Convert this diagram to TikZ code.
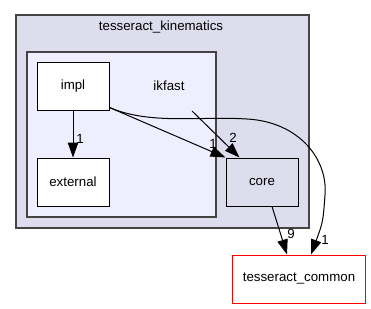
\documentclass[tikz,border=0pt]{standalone}
\usepackage{fontspec}
\setmainfont{Liberation Sans}
\usepackage{tikz}
\usetikzlibrary{arrows.meta}

\definecolor{clusterfill}{HTML}{DDDDEE}
\definecolor{subfill}{HTML}{EEEEFF}
\definecolor{clusterline}{HTML}{444444}

\tikzset{
	dot/.style={font=\fontsize{13.3}{15}\selectfont},
	dirbox/.style={dot, draw=black, line width=1pt, fill=white, minimum width=72pt,
		minimum height=48pt, inner sep=0pt},
	dep/.style={line width=1pt, -{Triangle[length=15pt,width=10.5pt]}},
	cnt/.style={dot, inner sep=1pt}
}

\begin{document}
\begin{tikzpicture}[x=1pt, y=-1pt]
			\useasboundingbox (0, 0) rectangle (371, 308);

			\draw [line width=1.5pt, clusterline, fill=clusterfill] (16, 15) rectangle (309, 228);
			\node [dot] (kin) at (161, 27) {tesseract\_kinematics};

			\draw [line width=1.5pt, clusterline, fill=subfill] (27, 52) rectangle (216, 217);
			\node [dot] (ikfast) at (169, 86) {ikfast};
			\coordinate (ikfastout) at (192, 111);

			\node [dirbox] (impl) at (73, 86) {impl};
			\node [dirbox] (external) at (73, 182) {external};
			\node [dirbox, fill=clusterfill] (core) at (262, 182) {core};
			\node [dirbox, draw=red, minimum width=133pt] (common) at (299, 279) {tesseract\_common};

			\draw [dep] (impl) -- (external);
			\node [cnt] at (80, 139) {1};

			\draw [dep] ([yshift=3pt]impl.south east) -- (core.north west);
			\node [cnt] at (213, 144) {1};

			\draw [dep] (ikfastout) -- ([xshift=14pt]core.north west);
			\node [cnt] at (233, 138) {2};

			\draw [dep] ([yshift=3pt]impl.south east) .. controls (150, 125) and (200, 116) .. (247, 119)
				.. controls (300, 122) and (328, 160) .. (325, 195)
				.. controls (323, 222) .. ([xshift=12pt]common.north);
			\node [cnt] at (325, 240) {1};

			\draw [dep] ([xshift=10pt]core.south) -- ([xshift=-12pt]common.north);
			\node [cnt] at (291, 234) {9};
		\end{tikzpicture}
\end{document}
